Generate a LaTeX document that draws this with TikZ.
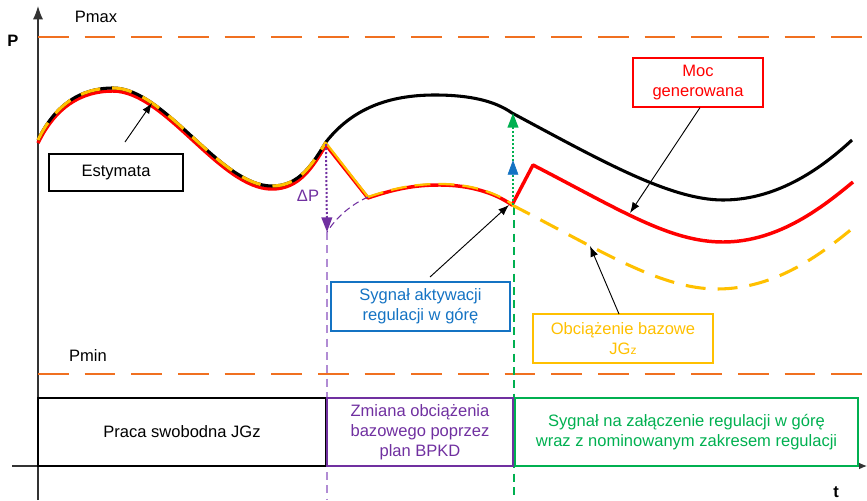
\documentclass[tikz,border=0pt]{standalone}
\usepackage{fontspec}
\setmainfont{Liberation Sans}
\usetikzlibrary{arrows.meta}

\definecolor{limitorange}{RGB}{240,112,32}
\definecolor{genred}{RGB}{255,0,0}
\definecolor{baseyellow}{RGB}{255,192,0}
\definecolor{planpurple}{RGB}{112,48,160}
\definecolor{planlilac}{RGB}{177,140,212}
\definecolor{siggreen}{RGB}{0,176,80}
\definecolor{sigblue}{RGB}{20,115,195}

\begin{document}
\begin{tikzpicture}[x=0.75pt,y=-0.75pt,
  lbl/.style={font=\fontsize{12.4}{15}\selectfont, align=center},
  box/.style={lbl, draw, line width=0.9pt, inner sep=0pt},
  axisline/.style={black!80, line width=0.8pt},
  limitline/.style={limitorange, line width=1.6pt, dash pattern=on 23pt off 12pt},
  pointer/.style={black, line width=0.7pt, -{Latex[length=8pt,width=6pt]}},
  estline/.style={black, line width=2.3pt},
  genline/.style={genred, line width=2.6pt, line join=round},
  baseline/.style={baseyellow, line width=2.3pt, dash pattern=on 15pt off 9pt},
  baseonred/.style={baseyellow, line width=1.7pt},
  marker/.style={line width=1pt, dash pattern=on 6pt off 4pt},
  dotarrow/.style={line width=1.5pt, dash pattern=on 1.5pt off 1.5pt}
]
\useasboundingbox (0,0) rectangle (867,500);

% axes
\coordinate (ybot) at (38,500);
\coordinate (ytop) at (38,6);
\coordinate (xleft) at (12,466);
\coordinate (xright) at (867,466);
\draw[axisline, -{Latex[length=10pt,width=7.5pt]}] (ybot) -- (ytop);
\draw[axisline, -{Latex[length=6pt,width=5pt]}] (xleft) -- (xright);
\node[font=\fontsize{12.4}{15}\selectfont\bfseries] (plabel) at (13,41) {P};
\node[font=\fontsize{12.4}{15}\selectfont\bfseries] (tlabel) at (836,492) {t};

% power limits
\coordinate (pmaxA) at (38,37);
\coordinate (pmaxB) at (867,37);
\coordinate (pminA) at (38,374);
\coordinate (pminB) at (867,374);
\draw[limitline] (pmaxA) -- (pmaxB);
\draw[limitline] (pminA) -- (pminB);
\node[lbl] (pmax) at (96,17) {Pmax};
\node[lbl] (pmin) at (88,356) {Pmin};

% time markers
\coordinate (planTop) at (327,232);
\coordinate (planBot) at (327,500);
\coordinate (sigTop) at (514,207);
\coordinate (sigBot) at (514,500);
\draw[marker, planlilac] (planTop) -- (planBot);
\draw[marker, siggreen] (sigTop) -- (sigBot);

% generated power
\draw[genline] (38,143) .. controls (55,108) and (80,91) .. (113,91)
  .. controls (165,91) and (220,189) .. (272,189)
  .. controls (300,189) and (313,166) .. (326,145)
  -- (368,198)
  .. controls (400,187) and (420,185) .. (440,185)
  .. controls (470,185) and (495,193) .. (512,205)
  -- (533,165)
  .. controls (620,210) and (670,242) .. (723,242)
  .. controls (780,242) and (825,205) .. (853,182);

% estimate
\draw[estline] (38,140) .. controls (55,105) and (80,88) .. (113,88)
  .. controls (165,88) and (220,186) .. (272,186)
  .. controls (300,186) and (313,163) .. (326,142)
  .. controls (355,105) and (395,95) .. (435,95)
  .. controls (470,95) and (495,101) .. (512,113)
  .. controls (600,160) and (670,200) .. (723,200)
  .. controls (780,200) and (825,165) .. (852,140);

% base load
\draw[baseline] (38,140) .. controls (55,105) and (80,88) .. (113,88)
  .. controls (165,88) and (220,186) .. (272,186)
  .. controls (300,186) and (313,163) .. (326,142);
\draw[baseonred] (326,143) -- (368,197);
\draw[baseonred, dash pattern=on 12pt off 6pt] (368,197)
  .. controls (400,186) and (420,184) .. (440,184)
  .. controls (470,184) and (495,192) .. (512,204);
\draw[baseline] (512,205) .. controls (600,250) and (660,289) .. (717,289)
  .. controls (775,289) and (820,255) .. (853,228);

% base load shift by the plan
\coordinate (kink) at (368,197);
\coordinate (shiftEnd) at (327,232);
\coordinate (peak) at (326,144);
\draw[planpurple, line width=0.8pt, dash pattern=on 5pt off 3pt]
  (kink) .. controls (350,205) and (336,218) .. (shiftEnd);
\draw[dotarrow, planpurple, -{Triangle[length=11pt,width=8pt]}] (peak) -- (shiftEnd);
\node[lbl, text=planpurple] (dP) at (308,196) {ΔP};

% activation signal
\coordinate (actBase) at (513,205);
\coordinate (greenTip) at (513,113);
\coordinate (blueTail) at (513,176);
\coordinate (blueTip) at (513,160);
\draw[dotarrow, siggreen, -{Triangle[length=11pt,width=8pt]}] (actBase) -- (greenTip);
\draw[sigblue, line width=0.5pt, -{Triangle[length=11pt,width=8pt]}] (blueTail) -- (blueTip);

% labels with pointers
\node[box, minimum width=100.5pt, minimum height=27.75pt] (est) at (116,172.5) {Estymata};
\coordinate (estFrom) at (125,142);
\coordinate (estTo) at (152,103);
\draw[pointer] (estFrom) -- (estTo);

\node[box, draw=genred, text=genred, minimum width=97.5pt, minimum height=36.75pt]
  (moc) at (698,82.5) {Moc\\generowana};
\coordinate (mocTo) at (630,213);
\draw[pointer] (moc.south) ++(2,0) coordinate (mocFrom) (mocFrom) -- (mocTo);

\node[box, draw=sigblue, text=sigblue, minimum width=134.25pt, minimum height=36.75pt]
  (act) at (420.5,306.5) {Sygnał aktywacji\\regulacji w górę};
\coordinate (actFrom) at (430,277);
\coordinate (actTo) at (509,205);
\draw[pointer] (actFrom) -- (actTo);

\node[box, draw=baseyellow, text=baseyellow, minimum width=135pt, minimum height=36.75pt]
  (base) at (623,338.5) {Obciążenie bazowe\\JG{\fontsize{9}{9}\selectfont z}};
\coordinate (baseFrom) at (619,314);
\coordinate (baseTo) at (590,246);
\draw[pointer] (baseFrom) -- (baseTo);

% operating phases
\node[box, minimum width=216pt, minimum height=51pt] (free) at (182,432)
  {Praca swobodna JGz};
\node[box, draw=planpurple, text=planpurple, minimum width=139.5pt, minimum height=51pt]
  (plan) at (420,432) {Zmiana obciążenia\\bazowego poprzez\\plan BPKD};
\node[box, draw=siggreen, text=siggreen, minimum width=257.25pt, minimum height=51pt]
  (reg) at (686.5,432) {Sygnał na załączenie regulacji w górę\\wraz z nominowanym zakresem regulacji};
\end{tikzpicture}
\end{document}
